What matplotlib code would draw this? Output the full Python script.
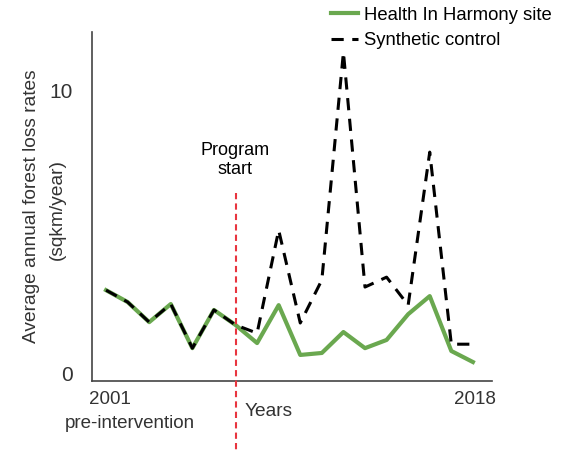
import numpy as np
import matplotlib
matplotlib.use('Agg')
import matplotlib.pyplot as plt

plt.rcParams['font.family'] = ['Liberation Sans', 'DejaVu Sans']

#==== data ====
years = list(range(2001, 2019))
hih_site = [2.93, 2.51, 1.80, 2.44, 0.88, 2.23, 1.70, 1.06, 2.40, 0.64,
            0.71, 1.45, 0.88, 1.17, 2.08, 2.72, 0.78, 0.39]
synthetic = [2.93, 2.51, 1.80, 2.44, 0.88, 2.23, 1.70, 1.41, 5.05, 1.77,
             3.29, 11.34, 3.04, 3.39, 2.40, 7.81, 1.02, 1.02]
program_start = 2007
ytick_vals = [0, 10]

txt = '#333333'

fig = plt.figure(figsize=(5.68, 4.53), dpi=100)
ax = fig.add_axes([0.162, 0.159, 0.704, 0.770])

ax.plot(years, hih_site, color='#6aa84f', lw=3, label='Health In Harmony site', zorder=3)
ax.plot(years, synthetic, color='black', lw=2.2, ls=(0, (4, 2.8)), label='Synthetic control', zorder=4)

# program start marker (runs below the axis)
ax.plot([program_start, program_start], [6.36, -2.85], color='#e8353f', lw=1.5,
        ls=(0, (3, 2)), clip_on=False, zorder=5)

ax.set_xlim(2000.35, 2018.88)
ax.set_ylim(-0.28, 12.05)
ax.set_xticks([])
ax.set_yticks(ytick_vals)
ax.set_yticklabels([str(v) for v in ytick_vals], fontsize=15, color=txt)
ax.tick_params(axis='y', length=0, pad=14)
for s in ['top', 'right']:
    ax.spines[s].set_visible(False)
for s in ['left', 'bottom']:
    ax.spines[s].set_color('#444444')
    ax.spines[s].set_linewidth(1.2)

# y label, two lines placed separately
fig.text(32/568, 1-206/453, 'Average annual forest loss rates', fontsize=13.8, color=txt,
         rotation=90, ha='center', va='center')
fig.text(57/568, 1-210/453, '(sqkm/year)', fontsize=13.8, color=txt,
         rotation=90, ha='center', va='center')

fig.text(110/568, 1-399/453, '2001', fontsize=13.5, color=txt, ha='center', va='center')
fig.text(130/568, 1-423/453, 'pre-intervention', fontsize=13.5, color=txt, ha='center', va='center')
fig.text(475/568, 1-399/453, '2018', fontsize=13.5, color=txt, ha='center', va='center')
fig.text(245/568, 1-412/453, 'Years', fontsize=13.8, color=txt, ha='left', va='center')
fig.text(235/568, 1-160/453, 'Program\nstart', fontsize=13, color='black', ha='center',
         va='center', linespacing=1.2)

fig.legend(loc='upper right', bbox_to_anchor=(1.0, 1.022), frameon=False, fontsize=13.3,
           handlelength=1.5, handletextpad=0.28, labelspacing=0.45, labelcolor='black')

fig.savefig('out.png', dpi=100)
